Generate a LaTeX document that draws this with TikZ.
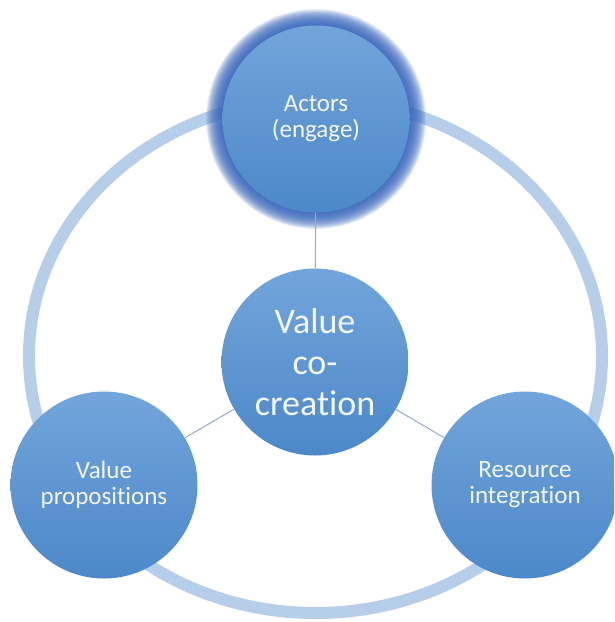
\documentclass[tikz,border=0pt]{standalone}
\usepackage{fontspec}
\setmainfont{Carlito}[Ligatures=NoCommon]
\definecolor{ringc}{RGB}{183,206,234}
\definecolor{topc}{RGB}{114,165,219}
\definecolor{botc}{RGB}{76,136,201}
\definecolor{glowc}{RGB}{58,105,190}
\definecolor{linec}{RGB}{150,172,200}
\definecolor{txtc}{RGB}{244,247,252}
\tikzset{
  bub/.style={circle, minimum size=187pt, inner sep=0pt, top color=topc, bottom color=botc, draw=none, text=txtc, align=center, font={\fontsize{25}{26}\selectfont}},
  bigtxt/.style={font={\fontsize{36}{41}\selectfont}},
  conn/.style={draw=linec, line width=1pt},
  ring/.style={draw=ringc, line width=12pt}
}
\begin{document}
\begin{tikzpicture}[x=1pt,y=-1pt]
\useasboundingbox (0,0) rectangle (614,622);
\clip (0,0) rectangle (614,622);
\fill[white] (0,0) rectangle (614,622);
% outer ring
\draw[ring] (315.5,356) ellipse [x radius=286.5pt, y radius=257pt];
% glow of actors
\coordinate (actc) at (316,119);
\foreach \k in {1,...,22} {
  \fill[glowc, opacity=0.1] (actc) circle [radius={(93.5+0.75*\k)*1pt}];
}
% nodes
\node[bub] (act) at (actc) {Actors\\(engage)};
\node[bub, bigtxt] (vcc) at (315,362) {Value\\co-\\creation};
\node[bub] (vp) at (104,485) {Value\\propositions};
\node[bub] (ri) at (525,485) {Resource\\integration};
% connectors
\draw[conn] (act) -- (vcc);
\draw[conn] (vcc) -- (vp);
\draw[conn] (vcc) -- (ri);
\end{tikzpicture}
\end{document}
